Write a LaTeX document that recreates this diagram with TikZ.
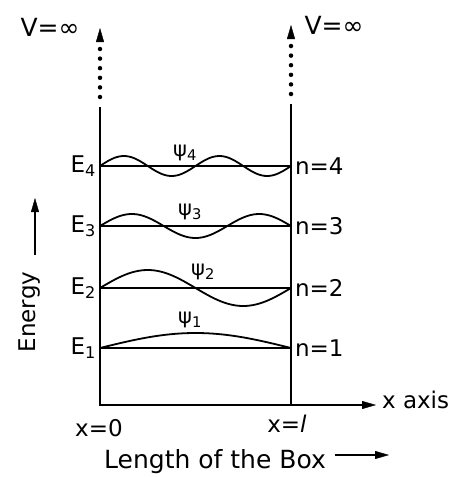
\documentclass[tikz,border=0pt]{standalone}
\usepackage{fontspec}
\setmainfont{DejaVu Sans}
\usetikzlibrary{arrows.meta}
\begin{document}
\begin{tikzpicture}[x=1pt,y=-1pt,line width=2.2pt,
  every node/.style={inner sep=1pt},
  lbl/.style={font=\fontsize{23}{25}\selectfont},
  biglbl/.style={font=\fontsize{25}{27}\selectfont},
  psilbl/.style={font=\fontsize{21}{23}\selectfont},
  wave/.style={line width=1.8pt,smooth,samples=80},
  tip/.style={-{Triangle[length=14pt,width=8pt,line width=0.4pt]}},
  dotline/.style={line width=4.5pt,line cap=round,dash pattern=on 0pt off 9.6pt,tip}]
\useasboundingbox (0,0) rectangle (454,477);
% walls of the box
\coordinate (lt) at (100,107); \coordinate (lb) at (100,405);
\coordinate (rt) at (291,104); \coordinate (rb) at (291,405);
\draw (lt) -- (lb) -- (rb) -- (rt);
% V = infinity
\coordinate (ldot) at (100,97); \coordinate (ltip) at (100,28);
\coordinate (rdot) at (291,94); \coordinate (rtip) at (291,25);
\draw[dotline] (ldot) -- (ltip);
\draw[dotline] (rdot) -- (rtip);
\node[biglbl] (vl) at (50,27) {V=∞};
\node[biglbl] (vr) at (334,25) {V=∞};
% energy levels and wave functions
\foreach \n/\y/\a in {1/348/15,2/288/18,3/226/12,4/166/10}{
  \coordinate (L\n) at (100,\y); \coordinate (R\n) at (291,\y);
  \draw (L\n) -- (R\n);
  \draw[wave] plot[domain=100:291] (\x,{\y-\a*sin(\n*((\x-100)/191)*180)});
  \node[lbl,anchor=east] (E\n) at (98,\y) {E\textsubscript{\n}};
  \node[lbl,anchor=west] (n\n) at (293,\y) {n=\n};
}
\node[psilbl] (psi4) at (185,153) {ψ\textsubscript{4}};
\node[psilbl] (psi3) at (190,212) {ψ\textsubscript{3}};
\node[psilbl] (psi2) at (203,272) {ψ\textsubscript{2}};
\node[psilbl] (psi1) at (190,320) {ψ\textsubscript{1}};
% energy axis
\node[lbl,rotate=90] (energy) at (30,312) {Energy};
\coordinate (ea) at (35,255); \coordinate (eb) at (35,198);
\draw[tip] (ea) -- (eb);
% x axis
\coordinate (xa) at (376,405);
\draw[tip] (rb) -- (xa);
\node[lbl,anchor=west] (xaxis) at (380,400) {x axis};
\node[lbl] (x0) at (99,428) {x=0};
\node[lbl] (xl) at (287,424) {x=\textit{l}};
\node[biglbl] (boxlen) at (215,462) {Length of the Box};
\coordinate (la) at (335,455); \coordinate (lc) at (389,455);
\draw[tip,line width=1.6pt] (la) -- (lc);
\end{tikzpicture}
\end{document}
